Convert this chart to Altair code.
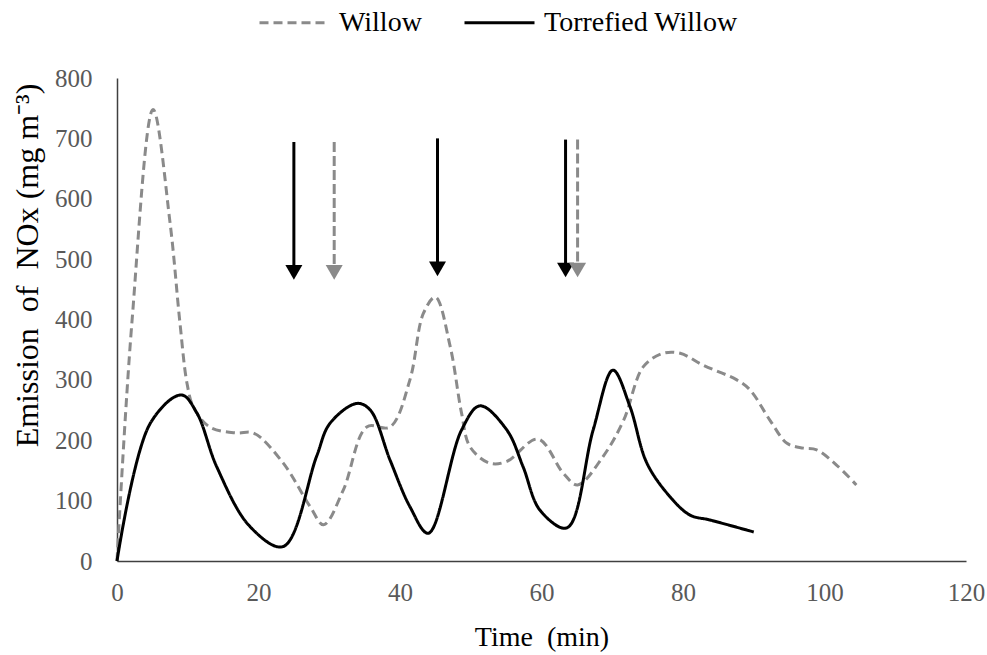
import altair as alt
import pandas as pd

# ---------------- data ----------------
series_names = ["Willow", "Torrefied Willow"]

willow_t = [0, 2.1, 5.1, 7.5, 8.9, 9.9, 10.8, 13.1, 16.9, 19.3, 23.5, 27.3, 29.2, 32.0,
            35.3, 38.6, 41.4, 43.3, 45.0, 47.1, 48.7, 49.9, 52.7, 55.1, 59.5, 63.1,
            65.1, 68.7, 71.6, 74.4, 77.2, 79.6, 82.9, 87.6, 89.5, 92.3, 94.7, 97.0,
            98.9, 101.7, 104.5]
willow_v = [0, 394, 748, 560, 394, 294, 255, 222, 212, 212, 162, 90, 60, 118,
            222, 222, 300, 410, 437, 355, 245, 189, 162, 165, 202, 145,
            126, 173, 233, 322, 344, 344, 324, 300, 283, 233, 195, 187,
            184, 159, 126]

torr_t = [0, 4.7, 9.1, 11.3, 14.1, 18.8, 23.5, 28.2, 30.1, 33.9, 35.8,
          38.6, 41.4, 44.0, 48.7, 51.3, 55.1, 57.4, 59.8, 63.6, 67.3,
          70.1, 72.5, 74.9, 78.2, 81.0, 83.8, 90.0]
torr_v = [0, 228, 275, 245, 156, 57, 24, 173, 228, 261, 250,
          167, 90, 46, 217, 257, 217, 156, 84, 55, 217,
          316, 256, 162, 106, 76, 68, 48]

arrow_t = [25.0, 30.7, 45.3, 63.4, 65.1]
arrow_series = ["Torrefied Willow", "Willow", "Torrefied Willow", "Torrefied Willow", "Willow"]
arrow_top = [694, 694, 700, 698, 698]
arrow_head = [478, 478, 484, 482, 482]

x_ticks = [0, 20, 40, 60, 80, 100, 120]
y_ticks = [0, 100, 200, 300, 400, 500, 600, 700, 800]

# ---------------- tables ----------------
lines_df = pd.DataFrame({
    "t": willow_t + torr_t,
    "v": willow_v + torr_v,
    "series": [series_names[0]] * len(willow_t) + [series_names[1]] * len(torr_t),
})
arrows_df = pd.DataFrame({
    "t": arrow_t, "top": arrow_top, "head": arrow_head, "series": arrow_series,
})

FONT = "Liberation Serif"
GRAY = "#8a8a8a"
color_scale = alt.Scale(domain=series_names, range=[GRAY, "#000000"])
dash_scale = alt.Scale(domain=series_names, range=[[9, 5], [1, 0]])

legend = alt.Legend(title=None, orient="none", legendX=141, legendY=-92,
                    direction="horizontal", symbolType="stroke",
                    symbolSize=4900, symbolStrokeWidth=3,
                    labelFont=FONT, labelFontSize=28, labelColor="#000000",
                    labelLimit=400, labelOffset=8, columnPadding=36, padding=0)

x_enc = alt.X(
    "t:Q",
    scale=alt.Scale(domain=[0, 120], nice=False),
    axis=alt.Axis(values=x_ticks, title="Time\u00a0 (min)", titleY=84,
                  titleBaseline="alphabetic", labelPadding=19, labelFlush=False),
)
y_enc = alt.Y(
    "v:Q",
    scale=alt.Scale(domain=[0, 800], nice=False),
    axis=alt.Axis(values=y_ticks, title="Emission\u00a0 of\u00a0 NOx (mg m\u207b\u00b3)",
                  titleX=-80, titleY=187, titleAngle=270, titleAlign="center",
                  titleBaseline="alphabetic", titleFontSize=32, labelPadding=25,
                  labelFlush=False),
)

lines = alt.Chart(lines_df).mark_line(interpolate="catmull-rom", strokeWidth=3).encode(
    x=x_enc,
    y=y_enc,
    color=alt.Color("series:N", scale=color_scale, legend=legend),
    strokeDash=alt.StrokeDash("series:N", scale=dash_scale, legend=legend),
)

base_arrows = alt.Chart(arrows_df)
shaft_solid = base_arrows.transform_filter(alt.datum.series == series_names[1]).mark_rule(
    strokeWidth=3, color="#000000").encode(x="t:Q", y="top:Q", y2="head:Q")
shaft_dashed = base_arrows.transform_filter(alt.datum.series == series_names[0]).mark_rule(
    strokeWidth=3, color=GRAY, strokeDash=[10, 4]).encode(x="t:Q", y="top:Q", y2="head:Q")
head_solid = base_arrows.transform_filter(alt.datum.series == series_names[1]).mark_point(
    shape="triangle-down", filled=True, size=289, opacity=1, color="#000000").encode(x="t:Q", y="head:Q")
head_dashed = base_arrows.transform_filter(alt.datum.series == series_names[0]).mark_point(
    shape="triangle-down", filled=True, size=289, opacity=1, color=GRAY).encode(x="t:Q", y="head:Q")

chart = alt.layer(lines, shaft_solid, shaft_dashed, head_solid, head_dashed).properties(
    width=849, height=483,
    autosize=alt.AutoSizeParams(type="none"),
    padding={"left": 117, "top": 78, "right": 21, "bottom": 94},
    background="white",
).configure_view(stroke=None).configure_axis(
    grid=False, ticks=False,
    domainColor="#404040", domainWidth=1.5,
    labelFont=FONT, labelFontSize=25, labelColor="#595959",
    titleFont=FONT, titleFontSize=28, titleFontWeight="normal", titleColor="#000000",
)

chart.save("out.html", embed_options={"renderer": "svg", "actions": False})
